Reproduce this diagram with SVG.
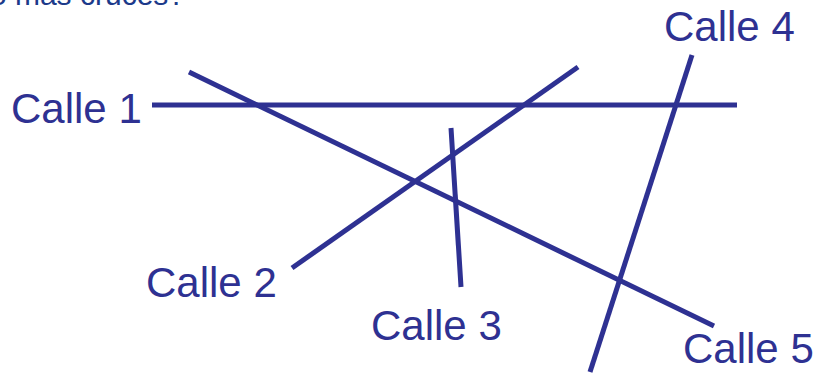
<svg xmlns="http://www.w3.org/2000/svg" width="819" height="374" viewBox="0 0 819 374">
<style>
.st{stroke:#2e3192;stroke-width:5;fill:none;stroke-linecap:butt}
.lb{font-family:"Liberation Sans",Arial,sans-serif;font-size:42px;fill:#2e3192}
.q{font-family:"Liberation Sans",Arial,sans-serif;font-size:30px;fill:#1c3a8a}
</style>
<rect width="819" height="374" fill="#ffffff"/>
<text class="q" x="185" y="5" text-anchor="end">o más cruces?</text>
<g id="connectors">
<line class="st" x1="152" y1="105" x2="737" y2="105"/>
<line class="st" x1="189" y1="72" x2="714" y2="326"/>
<line class="st" x1="292" y1="268" x2="578" y2="67"/>
<line class="st" x1="451" y1="128" x2="461" y2="287"/>
<line class="st" x1="692" y1="55" x2="590" y2="372"/>
</g>
<g id="calle1"><text class="lb" x="11" y="123">Calle 1</text></g>
<g id="calle2"><text class="lb" x="146" y="297">Calle 2</text></g>
<g id="calle3"><text class="lb" x="371" y="340">Calle 3</text></g>
<g id="calle4"><text class="lb" x="664" y="41">Calle 4</text></g>
<g id="calle5"><text class="lb" x="683" y="363">Calle 5</text></g>
</svg>
